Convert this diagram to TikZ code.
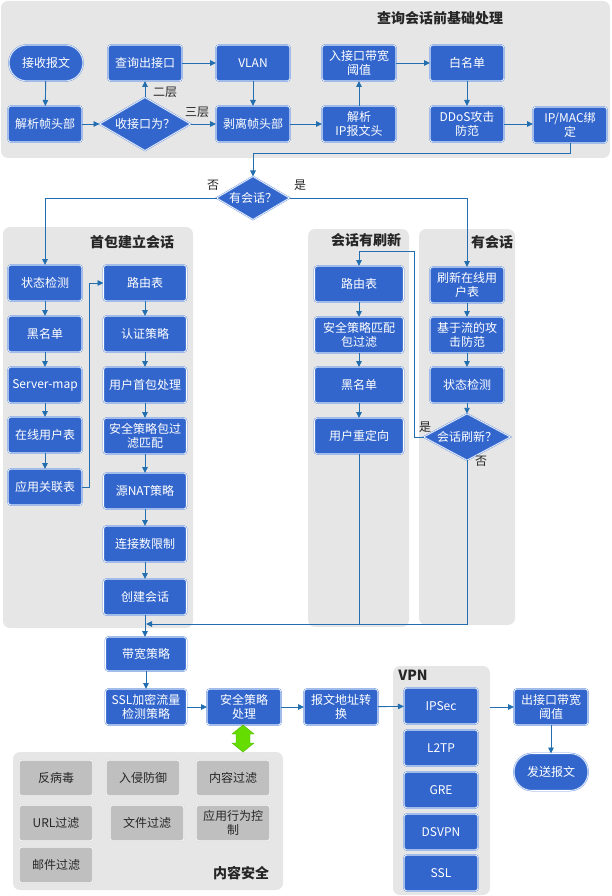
\documentclass[tikz,border=0pt]{standalone}
\usepackage{fontspec}
\setmainfont{Noto Sans CJK SC}
\usetikzlibrary{arrows.meta,shapes.geometric}
\definecolor{nblue}{RGB}{51,102,204}
\definecolor{nborder}{RGB}{110,150,225}
\definecolor{lnk}{RGB}{35,110,175}
\definecolor{pgray}{RGB}{230,230,230}
\definecolor{bgray}{RGB}{191,191,191}
\definecolor{gborder}{RGB}{215,215,215}
\definecolor{garrow}{RGB}{102,221,0}
\definecolor{garrowd}{RGB}{80,180,0}
\begin{document}
\begin{tikzpicture}[x=1pt,y=-1pt,
  font=\fontsize{12}{14}\selectfont,
  panel/.style={rectangle, fill=pgray, draw=none, rounded corners=7pt, inner sep=0pt, outer sep=0pt, anchor=north west},
  ptitle/.style={font=\fontsize{14}{16}\selectfont\bfseries, text=black!85, inner sep=0pt},
  box/.style={rectangle, rounded corners=3pt, fill=nblue, draw=nborder, double=white, double distance=0.6pt, line width=0.5pt, text=white, align=center, minimum width=#1, minimum height=36pt, inner sep=1pt, outer sep=0pt},
  box/.default=74pt,
  stad/.style={box, rounded corners=18pt},
  dia/.style={diamond, aspect=1.7, fill=nblue, draw=nborder, double=white, double distance=0.6pt, line width=0.5pt, text=white, inner sep=0pt, outer sep=0pt},
  gbox/.style={rectangle, rounded corners=3pt, fill=bgray, draw=gborder, double=white, double distance=0.6pt, line width=0.5pt, text=black!85, align=center, minimum width=74pt, minimum height=36pt, inner sep=1pt, outer sep=0pt},
  ln/.style={draw=lnk, line width=0.9pt},
  arr/.style={ln, -{Triangle[length=6pt,width=5.5pt]}},
  lab/.style={text=black!85, inner sep=0pt}
]
\useasboundingbox (0,0) rectangle (612,896);

% panels
\node[panel, minimum width=609pt, minimum height=157pt] (p1) at (1,1) {};
\node[panel, minimum width=190pt, minimum height=401pt] (p2) at (3,227) {};
\node[panel, minimum width=101pt, minimum height=398pt] (p3) at (308,229) {};
\node[panel, minimum width=96pt, minimum height=396pt] (p4) at (419,229) {};
\node[panel, minimum width=270pt, minimum height=138pt] (p5) at (13,752) {};
\node[panel, minimum width=97pt, minimum height=229pt] (p6) at (393,666) {};

% panel titles
\node[ptitle] (t1) at (440,18) {查询会话前基础处理};
\node[ptitle] (t2) at (132,242) {首包建立会话};
\node[ptitle] (t3) at (366,240) {会话有刷新};
\node[ptitle] (t4) at (492,242) {有会话};
\node[ptitle] (t5) at (241,873) {内容安全};
\node[ptitle] (t6) at (413,675) {VPN};

% top area
\node[stad] (recv) at (46,63) {接收报文};
\node[box] (parse) at (45,124) {解析帧头部};
\node[dia, minimum width=91pt, minimum height=53pt] (d1) at (145,124) {收接口为？};
\node[box] (query) at (145,63) {查询出接口};
\node[box] (vlan) at (253,63) {VLAN};
\node[box] (strip) at (253,124) {剥离帧头部};
\node[box] (parseip) at (359,124) {解析\\IP报文头};
\node[box] (inbw) at (359,63) {入接口带宽\\阈值};
\node[box] (white) at (467,63) {白名单};
\node[box] (ddos) at (467,124) {DDoS攻击\\防范};
\node[box] (ipmac) at (570,125) {IP/MAC绑\\定};

\node[dia, minimum width=73pt, minimum height=43pt] (d2) at (253,198) {有会话？};

% first packet column left
\node[box] (stat1) at (45,283) {状态检测};
\node[box] (black1) at (45,334) {黑名单};
\node[box] (smap) at (45,385) {Server-map};
\node[box] (online) at (45,435) {在线用户表};
\node[box] (appassoc) at (45,487) {应用关联表};
% first packet column right
\node[box=83pt] (route1) at (145,283) {路由表};
\node[box=83pt] (auth) at (145,334) {认证策略};
\node[box=83pt] (ufirst) at (145,385) {用户首包处理};
\node[box=83pt] (secmatch) at (145,436) {安全策略包过\\滤匹配};
\node[box=83pt] (snat) at (145,491) {源NAT策略};
\node[box=83pt] (connlim) at (145,544) {连接数限制};
\node[box=83pt] (create) at (145,597) {创建会话};

% session refreshed column
\node[box=89pt] (route2) at (359,284) {路由表};
\node[box=89pt] (secpkt) at (359,335) {安全策略匹配\\包过滤};
\node[box=89pt] (black2) at (359,385) {黑名单};
\node[box=89pt] (redir) at (359,436) {用户重定向};

% session exists column
\node[box] (refresh) at (467,285) {刷新在线用\\户表};
\node[box] (flowatk) at (467,335) {基于流的攻\\击防范};
\node[box] (stat2) at (467,385) {状态检测};
\node[dia, minimum width=87pt, minimum height=35pt] (d3) at (467,437) {会话刷新？};

% bottom chain
\node[box=81pt, minimum height=34pt] (bw) at (146,654) {带宽策略};
\node[box=81pt] (ssl) at (146,707) {SSL加密流量\\检测策略};
\node[box] (secproc) at (244,707) {安全策略\\处理};
\node[box] (nat) at (341,707) {报文地址转\\换};
\node[box] (ipsec) at (441,706) {IPSec};
\node[box] (l2tp) at (441,748) {L2TP};
\node[box] (gre) at (441,790) {GRE};
\node[box] (dsvpn) at (441,832) {DSVPN};
\node[box] (sslv) at (441,873) {SSL};
\node[box] (outbw) at (551,707) {出接口带宽\\阈值};
\node[stad, minimum height=37pt] (send) at (551,772) {发送报文};

% content security
\node[gbox] (av) at (56,778) {反病毒};
\node[gbox] (ips) at (143,778) {入侵防御};
\node[gbox] (cf) at (233,778) {内容过滤};
\node[gbox] (url) at (56,823) {URL过滤};
\node[gbox] (ff) at (147,823) {文件过滤};
\node[gbox] (appc) at (233,823) {应用行为控\\制};
\node[gbox] (mail) at (56,865) {邮件过滤};

% green double arrow
\fill[garrow, draw=garrowd, line width=0.4pt] (243,725) -- (254,734) -- (250,734) -- (250,743) -- (254,743) -- (243,752) -- (232,743) -- (236,743) -- (236,734) -- (232,734) -- cycle;

% connectors top
\draw[arr] (recv) -- (parse);
\draw[arr] (parse) -- (d1);
\draw[arr] (d1.north) -- (query.south);
\draw[arr] (d1.east) -- (strip.west);
\draw[arr] (query) -- (vlan);
\draw[arr] (vlan) -- (strip);
\draw[arr] (strip) -- (parseip);
\draw[arr] (parseip) -- (inbw);
\draw[arr] (inbw) -- (white);
\draw[arr] (white) -- (ddos);
\draw[arr] (ddos.east) -- (ddos.east -| ipmac.west);
\draw[arr] (ipmac.south) -- ++(0,10) -| (d2.north);
\node[lab] (l2) at (165,92) {二层};
\node[lab] (l3) at (197,112) {三层};

\draw[arr] (d2.west) -| (stat1.north);
\draw[arr] (d2.east) -| (refresh.north);
\node[lab] (lno1) at (213,185) {否};
\node[lab] (lyes1) at (300,185) {是};

% first packet chain
\draw[arr] (stat1) -- (black1);
\draw[arr] (black1) -- (smap);
\draw[arr] (smap) -- (online);
\draw[arr] (online) -- (appassoc);
\draw[arr] (appassoc.east) -- ++(7,0) |- (route1.west);
\draw[arr] (route1) -- (auth);
\draw[arr] (auth) -- (ufirst);
\draw[arr] (ufirst) -- (secmatch);
\draw[arr] (secmatch) -- (snat);
\draw[arr] (snat) -- (connlim);
\draw[arr] (connlim) -- (create);
\draw[arr] (create.south) -- (create.south |- bw.north);

% refreshed chain
\draw[arr] (route2) -- (secpkt);
\draw[arr] (secpkt) -- (black2);
\draw[arr] (black2) -- (redir);
% exists chain
\draw[arr] (refresh) -- (flowatk);
\draw[arr] (flowatk) -- (stat2);
\draw[arr] (stat2) -- (d3);
\draw[arr] (d3.west) -- (414,437) -- (414,251) -| (route2.north);
\node[lab] (lyes2) at (425,427) {是};
\node[lab] (lno2) at (481,461) {否};

% merge
\coordinate (m) at (146,624);
\draw[ln] (redir.south) -- (redir.south |- m);
\draw[arr] (d3.south) |- (m);

% bottom connectors
\draw[arr] (bw) -- (ssl);
\draw[arr] (ssl) -- (secproc);
\draw[arr] (secproc) -- (nat);
\draw[arr] (nat) -- (ipsec);
\draw[arr] (p6.east |- outbw.west) -- (outbw.west);
\draw[arr] (outbw) -- (send);
\end{tikzpicture}
\end{document}
